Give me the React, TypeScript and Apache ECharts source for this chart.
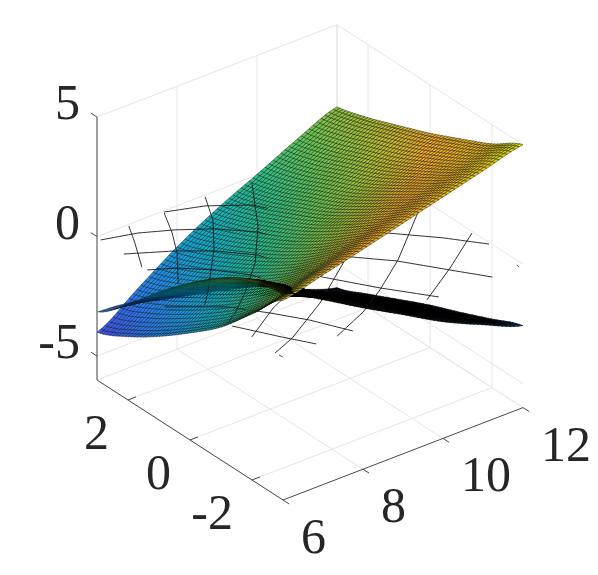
import React, { useEffect, useRef } from "react";
import * as echarts from "echarts";

// Axis ticks and labels
const xTicks = [6, 8, 10, 12];
const yTicks = [-2, 0, 2];
const zTicks = [-5, 0, 5];
const xRange = [6, 12];
const yRange = [-3, 3];
const zRange = [-6, 5];

// Values: rows are y = 3 ... -3, columns x = 6 ... 12
const gridX = [6, 7, 8, 9, 10, 11, 12];
const gridY = [3, 2, 1, 0, -1, -2, -3];
const mainZ = [
  [-4, -2.85, -1.72, -0.77, 0.03, 0.85, 1.57],
  [-3.35, -2.29, -1.23, -0.33, 0.42, 1.23, 1.95],
  [-2.5, -1.53, -0.57, 0.27, 1.01, 1.77, 2.45],
  [-1.52, -0.69, 0.17, 0.94, 1.62, 2.32, 2.97],
  [-0.44, 0.32, 1.05, 1.78, 2.41, 3.0, 3.57],
  [0.95, 1.55, 2.15, 2.72, 3.25, 3.74, 4.2],
  [2.35, 2.77, 3.2, 3.65, 4.1, 4.55, 5],
];
const sheetZ = [
  [-3.15, -3.33, -3.81, -4.28, -4.92, -5.44, -6],
  [-1.98, -2.32, -2.91, -3.5, -4.22, -4.82, -5.43],
  [-0.64, -1.15, -1.88, -2.6, -3.44, -4.12, -4.82],
  [0.57, -0.09, -0.95, -1.78, -2.7, -3.47, -4.22],
  [1.6, 0.8, -0.16, -1.09, -2.07, -2.91, -3.69],
  [2.3, 1.43, 0.42, -0.54, -1.53, -2.37, -3.13],
  [2.62, 1.73, 0.75, -0.18, -1.12, -1.89, -2.57],
];

// Sparse wire sheet, lying near this height; polylines as [x, y]
const wireZ = 0.2;
const wireLines: number[][][] = [
  [[7.53, 2.81], [8.32, 2.51], [9.08, 1.97], [9.8, 0.71], [10.51, -0.53], [11.27, -1.36], [11.84, -2.11]],
  [[5.86, 2.7], [6.61, 2.47], [7.27, 2.12], [7.92, 1.67], [8.52, 1.05], [8.94, 0.08], [9.38, -0.86], [9.99, -1.53], [10.6, -2.45], [11.09, -3.18]],
  [[5.88, 1.98], [6.76, 1.46], [7.38, 0.98], [7.96, 0.33], [8.43, -1.13], [9.07, -2.17], [9.77, -3.16]],
  [[5.86, 1.2], [6.39, 0.89], [6.89, 0.41], [7.38, -0.22], [7.72, -1.33], [8.19, -2.34], [8.7, -3.14]],
  [[5.24, -0.17], [6.23, -0.93], [6.74, -1.63], [7.19, -2.33], [7.6, -3.19]],
  [[5.83, -1.58], [6.34, -2.52], [6.71, -3.15]],
  [[6.64, 2.8], [6.32, 2.19], [5.85, 1.36]],
  [[7.51, 2.78], [7.15, 2.06], [6.74, 1.37], [6.03, 0.42]],
  [[8.54, 2.79], [8.1, 1.97], [7.39, 1.02], [6.25, -0.25], [5.91, -0.59]],
  [[9.61, 2.66], [8.64, 1.21], [7.72, 0.12], [6.83, -0.7], [6.19, -1.21], [5.84, -1.43]],
  [[5.87, -2.16], [6.91, -1.51], [7.56, -1.21]],
  [[5.85, -2.94], [6.48, -2.68], [7.76, -1.92], [9.2, -0.87]],
  [[7.23, -3.16], [8.22, -2.72], [9.02, -2.23], [10.03, -1.51], [11.51, -0.25]],
  [[9.51, -3.11], [10.65, -2.39], [11.84, -1.56]],
  [[5.86, -3.05], [5.87, -3.16]],
  [[11.77, -3.1], [11.75, -3.19]],
];

const palette = [
  [53, 42, 135], [62, 80, 235], [40, 120, 240], [25, 150, 225], [15, 175, 190],
  [40, 190, 135], [100, 195, 80], [170, 190, 50], [240, 170, 40], [235, 180, 30], [215, 215, 10],
];
const colorMin = -5;
const colorMax = 5;
const meshCells = 60;
const faceColor = (z: number, shade: number) => {
  const t = Math.max(0, Math.min(0.9999, (z - colorMin) / (colorMax - colorMin))) * (palette.length - 1);
  const i = Math.floor(t);
  const f = t - i;
  const c = palette[i].map((v, k) => Math.round((v + (palette[i + 1][k] - v) * f) * shade));
  return `rgb(${c[0]},${c[1]},${c[2]})`;
};

// Orthographic view of the box, in chart units
const project = (x: number, y: number, z: number) => [
  283 + 40 * (x - 6) - 31 * (y + 3),
  500 - 15.4 * (x - 6) - 20 * (y + 3) - 23.9 * (z + 6),
];
const depth = (x: number, y: number, z: number) => 31 * x + 40 * y - 53.4 * z;

// The near edge-on sheet reads darker where its mesh lines crowd together
const sheetShade = (sx: number) => {
  if (sx < 230) return 0.7;
  if (sx < 290) return 0.7 - ((sx - 230) / 60) * 0.58;
  if (sx < 480) return 0.12;
  return 0.12 + ((sx - 480) / 43) * 0.4;
};
const sheetEdge = (sx: number) => (sx < 260 ? 0.12 : 0.45);
// Left of the crossing the sheet sits in front of the wire lines
const sheetLift = (sx: number) => (sx < 275 ? 80 : 0);

const cr = (p0: number, p1: number, p2: number, p3: number, t: number) =>
  0.5 * (2 * p1 + (p2 - p0) * t + (2 * p0 - 5 * p1 + 4 * p2 - p3) * t * t + (3 * p1 - p0 - 3 * p2 + p3) * t * t * t);
const sample = (tbl: number[][], u: number, v: number) => {
  const n = tbl.length - 1;
  const r = Math.min(n - 1, Math.floor(v));
  const c = Math.min(n - 1, Math.floor(u));
  const rowAt = (k: number) => {
    const row = tbl[Math.max(0, Math.min(n, k))];
    const g = (j: number) => row[Math.max(0, Math.min(n, j))];
    return cr(g(c - 1), g(c), g(c + 1), g(c + 2), u - c);
  };
  return cr(rowAt(r - 1), rowAt(r), rowAt(r + 1), rowAt(r + 2), v - r);
};

type Item = { pts: number[][]; fill?: string; d: number; wire?: boolean; edge?: number };

const buildScene = () => {
  const items: Item[] = [];
  [mainZ, sheetZ].forEach((tbl, which) => {
    const n = gridX.length - 1;
    const vert = (i: number, j: number) => {
      const u = (i / meshCells) * n;
      const v = (j / meshCells) * n;
      const x = gridX[0] + (u / n) * (gridX[n] - gridX[0]);
      const y = gridY[0] + (v / n) * (gridY[n] - gridY[0]);
      return [x, y, sample(tbl, u, v)];
    };
    for (let i = 0; i < meshCells; i++) {
      for (let j = 0; j < meshCells; j++) {
        const pts = [vert(i, j), vert(i + 1, j), vert(i + 1, j + 1), vert(i, j + 1)];
        const c = [0, 1, 2].map((k) => pts.reduce((s, p) => s + p[k], 0) / 4);
        const sx = project(c[0], c[1], c[2])[0];
        items.push({
          pts,
          fill: faceColor(c[2], which === 0 ? 1 : sheetShade(sx)),
          edge: which === 0 ? 0.38 : sheetEdge(sx),
          d: depth(c[0], c[1], c[2]) - (which === 0 ? 0 : sheetLift(sx)),
        });
      }
    }
  });
  wireLines.forEach((line) => {
    for (let i = 0; i + 1 < line.length; i++) {
      // split each reading span so that it can pass through the surfaces
      const steps = 8;
      for (let s = 0; s < steps; s++) {
        const a = s / steps;
        const b = (s + 1) / steps;
        const p = [line[i][0] + (line[i + 1][0] - line[i][0]) * a, line[i][1] + (line[i + 1][1] - line[i][1]) * a, wireZ];
        const q = [line[i][0] + (line[i + 1][0] - line[i][0]) * b, line[i][1] + (line[i + 1][1] - line[i][1]) * b, wireZ];
        items.push({ pts: [p, q], wire: true, d: depth((p[0] + q[0]) / 2, (p[1] + q[1]) / 2, wireZ) + 15 });
      }
    }
  });
  items.sort((a, b) => b.d - a.d);
  return items;
};

type Seg = { a: number[]; b: number[]; color: string; width: number };
const buildFrame = () => {
  const segs: Seg[] = [];
  const [x0, x1] = xRange;
  const [y0, y1] = yRange;
  const [z0, z1] = zRange;
  const grid = (a: number[], b: number[]) => segs.push({ a, b, color: "#e6e6e6", width: 1 });
  const axis = (a: number[], b: number[]) => segs.push({ a, b, color: "#4a4a4a", width: 1 });
  xTicks.forEach((x) => {
    grid([x, y1, z0], [x, y1, z1]);
    grid([x, y0, z0], [x, y1, z0]);
  });
  yTicks.forEach((y) => {
    grid([x1, y, z0], [x1, y, z1]);
    grid([x0, y, z0], [x1, y, z0]);
  });
  zTicks.forEach((z) => {
    grid([x0, y1, z], [x1, y1, z]);
    grid([x1, y0, z], [x1, y1, z]);
  });
  grid([x1, y1, z0], [x1, y1, z1]);
  grid([x0, y1, z0], [x1, y1, z0]);
  grid([x1, y0, z0], [x1, y1, z0]);
  axis([x0, y1, z0], [x0, y1, z1]);
  axis([x0, y1, z0], [x0, y0, z0]);
  axis([x0, y0, z0], [x1, y0, z0]);
  zTicks.forEach((z) => axis([x0, y1, z], [x0, y1 + 0.2, z]));
  yTicks.forEach((y) => axis([x0, y, z0], [x0 + 0.2, y, z0]));
  xTicks.forEach((x) => axis([x, y0, z0], [x, y0 - 0.2, z0]));
  return segs;
};

type Lab = { p: number[]; text: string; dx: number; dy: number; align: string };
const buildLabels = () => {
  const labs: Lab[] = [];
  zTicks.forEach((z) => labs.push({ p: [xRange[0], yRange[1], z], text: String(z), dx: -17, dy: -15, align: "right" }));
  yTicks.forEach((y) => labs.push({ p: [xRange[0], y, zRange[0]], text: String(y), dx: -19, dy: 32, align: "right" }));
  xTicks.forEach((x) => labs.push({ p: [x, yRange[0], zRange[0]], text: String(x), dx: 18, dy: 36, align: "left" }));
  return labs;
};

export default function App() {
  const ref = useRef<HTMLDivElement>(null);
  useEffect(() => {
    if (!ref.current) return;
    const chart = echarts.init(ref.current, undefined, { renderer: "svg" });
    const scene = buildScene();
    const frame = buildFrame();
    const labels = buildLabels();
    const at = (api: any, p: number[]) => api.coord(project(p[0], p[1], p[2]));
    chart.setOption({
      animation: false,
      backgroundColor: "#ffffff",
      grid: { left: 0, right: 0, top: 0, bottom: 0 },
      xAxis: { type: "value", min: 0, max: 598, show: false },
      yAxis: { type: "value", min: 0, max: 575, inverse: true, show: false },
      series: [
        {
          type: "custom",
          name: "frame",
          coordinateSystem: "cartesian2d",
          silent: true,
          clip: false,
          progressive: 0,
          data: frame.map((_, i) => [i]),
          renderItem: (_: any, api: any) => {
            const s = frame[api.value(0)];
            const a = at(api, s.a);
            const b = at(api, s.b);
            return {
              type: "line",
              shape: { x1: a[0], y1: a[1], x2: b[0], y2: b[1] },
              style: { stroke: s.color, lineWidth: s.width, fill: "none" },
            };
          },
        },
        {
          type: "custom",
          name: "surfaces",
          coordinateSystem: "cartesian2d",
          silent: true,
          clip: false,
          progressive: 0,
          data: scene.map((_, i) => [i]),
          renderItem: (_: any, api: any) => {
            const it = scene[api.value(0)];
            const pts = it.pts.map((p) => at(api, p));
            if (it.wire) {
              return {
                type: "line",
                shape: { x1: pts[0][0], y1: pts[0][1], x2: pts[1][0], y2: pts[1][1] },
                style: { stroke: "#1a1a1a", lineWidth: 0.9, fill: "none" },
              };
            }
            return {
              type: "polygon",
              shape: { points: pts },
              style: { fill: it.fill, stroke: "#000000", lineWidth: it.edge },
            };
          },
        },
        {
          type: "custom",
          name: "labels",
          coordinateSystem: "cartesian2d",
          silent: true,
          clip: false,
          progressive: 0,
          data: labels.map((_, i) => [i]),
          renderItem: (_: any, api: any) => {
            const l = labels[api.value(0)];
            const c = at(api, l.p);
            return {
              type: "text",
              x: c[0] + l.dx,
              y: c[1] + l.dy,
              style: {
                text: l.text,
                fill: "#262626",
                font: '50px "Liberation Serif"',
                align: l.align,
                verticalAlign: "middle",
              },
            };
          },
        },
      ],
    });
    return () => chart.dispose();
  }, []);
  return <div ref={ref} style={{ position: "fixed", left: 0, top: 0, width: 598, height: 575 }} />;
}
